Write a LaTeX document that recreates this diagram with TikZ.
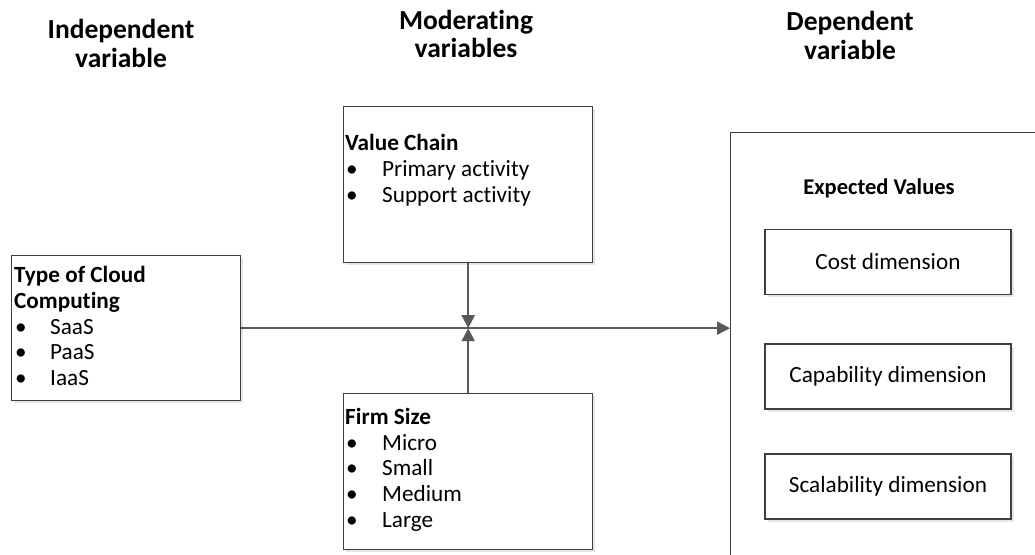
\documentclass[tikz,border=0pt]{standalone}
\usepackage{fontspec}
\setmainfont[RawFeature={-liga;-clig;-dlig}]{Carlito}
\usetikzlibrary{arrows.meta,shadows}
\definecolor{boxline}{HTML}{3F3F3F}
\definecolor{connline}{HTML}{595959}
\definecolor{shadowgray}{HTML}{E6E6E6}
\tikzset{
  box/.style={draw=boxline, line width=1.4pt, fill=white, anchor=north west, inner sep=0pt,
    drop shadow={shadow xshift=2.5pt, shadow yshift=-2.5pt, fill=shadowgray, opacity=1}},
  dimbox/.style={draw=boxline, line width=1.2pt, fill=white, minimum width=246pt, minimum height=65pt,
    font=\fontsize{23.2}{26}\selectfont,
    drop shadow={shadow xshift=2.5pt, shadow yshift=-2.5pt, fill=shadowgray, opacity=1}},
  txt/.style={anchor=base west, inner sep=0pt, font=\fontsize{23.2}{26}\selectfont},
  head/.style={anchor=base, inner sep=0pt, font=\bfseries\fontsize{27.5}{30}\selectfont},
  connector/.style={draw=connline, line width=2pt},
  tip/.style={-{Triangle[length=13pt,width=13pt]}, connline}
}
\newcommand{\bul}[2]{\makebox[#1][l]{•}#2}
\begin{document}
\begin{tikzpicture}[x=1pt,y=-1pt]
\clip (0,0) rectangle (1035,554);
\fill[white] (0,0) rectangle (1035,554);

% headings
\node[head] (h1a) at (121,38) {Independent};
\node[head] (h1b) at (121,67) {variable};
\node[head] (h2a) at (466,29) {Moderating};
\node[head] (h2b) at (466,57) {variables};
\node[head] (h3a) at (850,30) {Dependent};
\node[head] (h3b) at (850,59) {variable};

% boxes
\node[box, minimum width=229pt, minimum height=145pt] (lb) at (11,255) {};
\node[box, minimum width=249pt, minimum height=156pt] (vc) at (343,106) {};
\node[box, minimum width=249pt, minimum height=156pt] (fs) at (343,393) {};
\node[box, minimum width=420pt, minimum height=480pt] (big) at (730,132) {};

% left box text
\node[txt] (t1) at (14,282) {\textbf{Type of Cloud}};
\node[txt] (t2) at (14,308) {\textbf{Computing}};
\node[txt] (t3) at (15,334) {\bul{35pt}{SaaS}};
\node[txt] (t4) at (15,359) {\bul{35pt}{PaaS}};
\node[txt] (t5) at (15,385) {\bul{35pt}{IaaS}};

% value chain text
\node[txt] (v1) at (345,150) {\textbf{Value Chain}};
\node[txt] (v2) at (346,176) {\bul{36pt}{Primary activity}};
\node[txt] (v3) at (346,202) {\bul{36pt}{Support activity}};

% firm size text
\node[txt] (f1) at (345,424) {\textbf{Firm Size}};
\node[txt] (f2) at (346,450) {\bul{36pt}{Micro}};
\node[txt] (f3) at (346,475) {\bul{36pt}{Small}};
\node[txt] (f4) at (346,501) {\bul{36pt}{Medium}};
\node[txt] (f5) at (346,527) {\bul{36pt}{Large}};

% dependent side
\node[anchor=base, inner sep=0pt, font=\bfseries\fontsize{22.5}{26}\selectfont] (ev) at (879,194) {Expected Values};
\node[dimbox] (cost) at (888,262) {Cost dimension};
\node[dimbox] (capa) at (888,376.5) {Capability dimension};
\node[dimbox] (scal) at (888,486.5) {Scalability dimension};

% connectors
\coordinate (j) at (vc.south |- lb.east);
\draw[connector, tip] (lb.east) -- (lb.east -| big.west);
\draw[connector, tip] (vc.south) -- (j);
\draw[connector, tip] (fs.north) -- (j);
\end{tikzpicture}
\end{document}
